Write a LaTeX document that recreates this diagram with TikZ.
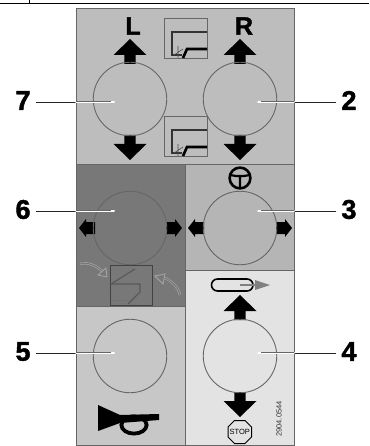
\documentclass[tikz,border=0pt]{standalone}
\usepackage{fontspec}
\setmainfont{Liberation Sans}
\newfontfamily\hv[BoldFeatures={FakeBold=1.6}]{Liberation Sans}
\usetikzlibrary{calc}
\definecolor{pa}{gray}{0.74}
\definecolor{pb}{gray}{0.47}
\definecolor{pc}{gray}{0.71}
\definecolor{pd}{gray}{0.89}
\definecolor{pe}{gray}{0.78}
\definecolor{ed}{gray}{0.4}
\tikzset{
 x=1pt,y=-1pt,
 panel/.style={draw=ed,line width=0.8pt},
 knob/.style={circle,draw=ed,line width=0.9pt,minimum size=73.5pt,inner sep=0pt},
 num/.style={font=\hv\bfseries\fontsize{27}{27}\selectfont,inner sep=0pt},
 lett/.style={font=\hv\bfseries\fontsize{25}{25}\selectfont,inner sep=0pt},
 arrowfill/.style={fill=black,draw=none},
 lead/.style={draw=black!85,line width=0.7pt},
 leadw/.style={draw=white,line width=2pt,line cap=round},
 leadg/.style={draw=black!60,line width=0.4pt},
 curvea/.style={draw=black!35,line width=2.4pt},
 curveb/.style={draw=pb,line width=1.1pt},
}
\newcommand{\uparr}[2]{\fill[arrowfill] (#1-5.7,#2) -- (#1-5.7,#2-9) -- (#1-16.5,#2-9) -- (#1,#2-25) -- (#1+16.5,#2-9) -- (#1+5.7,#2-9) -- (#1+5.7,#2) -- cycle;}
\newcommand{\dnarr}[2]{\fill[arrowfill] (#1-5.7,#2) -- (#1-5.7,#2+9) -- (#1-16.5,#2+9) -- (#1,#2+25) -- (#1+16.5,#2+9) -- (#1+5.7,#2+9) -- (#1+5.7,#2) -- cycle;}
\newcommand{\ltarr}[2]{\fill[arrowfill] (#1,#2-6) -- (#1-9,#2-6) -- (#1-9,#2-9) -- (#1-16,#2) -- (#1-9,#2+9) -- (#1-9,#2+6) -- (#1,#2+6) -- cycle;}
\newcommand{\rtarr}[2]{\fill[arrowfill] (#1,#2-6) -- (#1+9,#2-6) -- (#1+9,#2-9) -- (#1+16,#2) -- (#1+9,#2+9) -- (#1+9,#2+6) -- (#1,#2+6) -- cycle;}
\newcommand{\toolsym}[2]{%
 \draw[draw=ed,line width=1pt] (#1,#2) rectangle (#1+43,#2+40);
 \draw[black!80,line width=1.2pt] (#1+43,#2+13) -- (#1+8,#2+13) -- (#1+8,#2+36) -- (#1+18,#2+36);
 \draw[black,line width=2.6pt] (#1+43,#2+30) -- (#1+23,#2+30) -- (#1+19,#2+39);
 \draw[black!70,line width=0.6pt] (#1+14,#2+27) -- (#1+14,#2+39) (#1+10,#2+36) -- (#1+19,#2+30);
}
\begin{document}
\begin{tikzpicture}
\useasboundingbox (0,0) rectangle (369,446);
\fill[white] (0,0) rectangle (369,446);
% top rule
\coordinate (ruleL) at (0,3.3); \coordinate (ruleR) at (369,3.3);
\draw[black,line width=1pt] (ruleL) -- (ruleR);
\coordinate (tickA) at (29,0); \coordinate (tickB) at (29,3.3);
\draw[black,line width=0.9pt] (tickA) -- (tickB);
% panels
\filldraw[panel,fill=pa] (76,8) rectangle (294,164);
\filldraw[panel,fill=pb] (76,164) rectangle (185,306);
\filldraw[panel,fill=pc] (185,164) rectangle (294,270);
\filldraw[panel,fill=pd] (185,270) rectangle (294,445);
\filldraw[panel,fill=pe] (76,306) rectangle (185,445);
% symbols top
\toolsym{164}{19}
\toolsym{164}{117}
% arrows
\uparr{130}{64} \uparr{240}{64}
\dnarr{130}{135} \dnarr{240}{135}
\ltarr{95}{228} \rtarr{166}{228}
\ltarr{204}{228} \rtarr{276}{228}
\uparr{240}{320}
\dnarr{240}{392}
% knobs
\node[knob] (k7) at (130,99) {};
\node[knob] (k2) at (240,99) {};
\node[knob] (k6) at (130,228) {};
\node[knob] (k3) at (240,228) {};
\node[knob] (k5) at (130,356) {};
\node[knob] (k4) at (240,356) {};
% letters
\node[lett] (L) at (133,26) {L};
\node[lett] (R) at (244,26) {R};
% numbers
\node[num] (n7) at (23,100.5) {7};
\node[num] (n6) at (23,209.5) {6};
\node[num] (n5) at (23,351.5) {5};
\node[num] (n2) at (349,100.5) {2};
\node[num] (n3) at (349,209.5) {3};
\node[num] (n4) at (349,351.5) {4};
% leaders
\coordinate (e7) at (114,102); \coordinate (e6) at (114,211); \coordinate (e5) at (114,353);
\coordinate (e2) at (258,102); \coordinate (e3) at (258,211); \coordinate (e4) at (258,353);
\foreach \b in {e7,e6,e5}{
 \draw[lead] (36,0 |- \b) -- (76,0 |- \b);
 \draw[leadw] (76,0 |- \b) -- (\b);
 \draw[leadg] ($(76,0 |- \b)+(0,-1)$) -- ($(\b)+(-3,-1)$);
}
\foreach \b in {e2,e3,e4}{
 \draw[lead] (336,0 |- \b) -- (294,0 |- \b);
 \draw[leadw] (294,0 |- \b) -- (\b);
 \draw[leadg] ($(294,0 |- \b)+(0,-1)$) -- ($(\b)+(3,-1)$);
}
% steering wheel
\draw[black,line width=2.6pt] (240,178) circle (10.4);
\draw[black,line width=2.2pt] (230,175) -- (236,176) -- (244,176) -- (250,175) (240,176) -- (240,188);
% dark panel symbol
\draw[draw=black!45!pb,line width=0.9pt] (110,265) rectangle (152,305);
\draw[black!65,line width=1.2pt] (135,269) -- (111,284) -- (140,284) -- (140,292) -- (128,304);
\draw[black!55,line width=1pt] (111,300) -- (129,300);
% curved arrows
\draw[curvea] (80,264) .. controls (88,262) and (96,265) .. (103,272);
\draw[curveb] (80,264) .. controls (88,262) and (96,265) .. (103,272);
\filldraw[draw=black!35,fill=pb,line width=0.8pt] (107,277) -- (98,275) -- (106,268) -- cycle;
\draw[curvea] (180,295) .. controls (178,287) and (173,282) .. (165,278);
\draw[curveb] (180,295) .. controls (178,287) and (173,282) .. (165,278);
\filldraw[draw=black!35,fill=pb,line width=0.8pt] (155,276) -- (165,274) -- (163,284) -- cycle;
% slot symbol
\draw[black,line width=1.6pt,rounded corners=6pt] (211.5,279) rectangle (253,291);
\draw[black!50,line width=2.4pt] (240,285) -- (258,285);
\fill[black!50] (255,280) -- (270,285) -- (255,290) -- cycle;
% horn
\fill[black] (98,405) -- (98,431) -- (120,423) -- (159,420) -- (159,414) -- (120,415) -- cycle;
\draw[black,line width=3.8pt] (134,425) ellipse (12.6 and 8.6);
% stop
\draw[black,line width=1pt] (234.5,420.5) -- (245,420.5) -- (251.5,427) -- (251.5,437) -- (245,443.5) -- (234.5,443.5) -- (228,437) -- (228,427) -- cycle;
\node[font=\fontsize{7.5}{7.5}\selectfont,inner sep=0pt] (stop) at (239.7,432) {STOP};
\node[rotate=90,font=\fontsize{7.5}{7.5}\selectfont,inner sep=0pt,text=black!80] (code) at (279,419) {2904.0544};
\end{tikzpicture}
\end{document}
